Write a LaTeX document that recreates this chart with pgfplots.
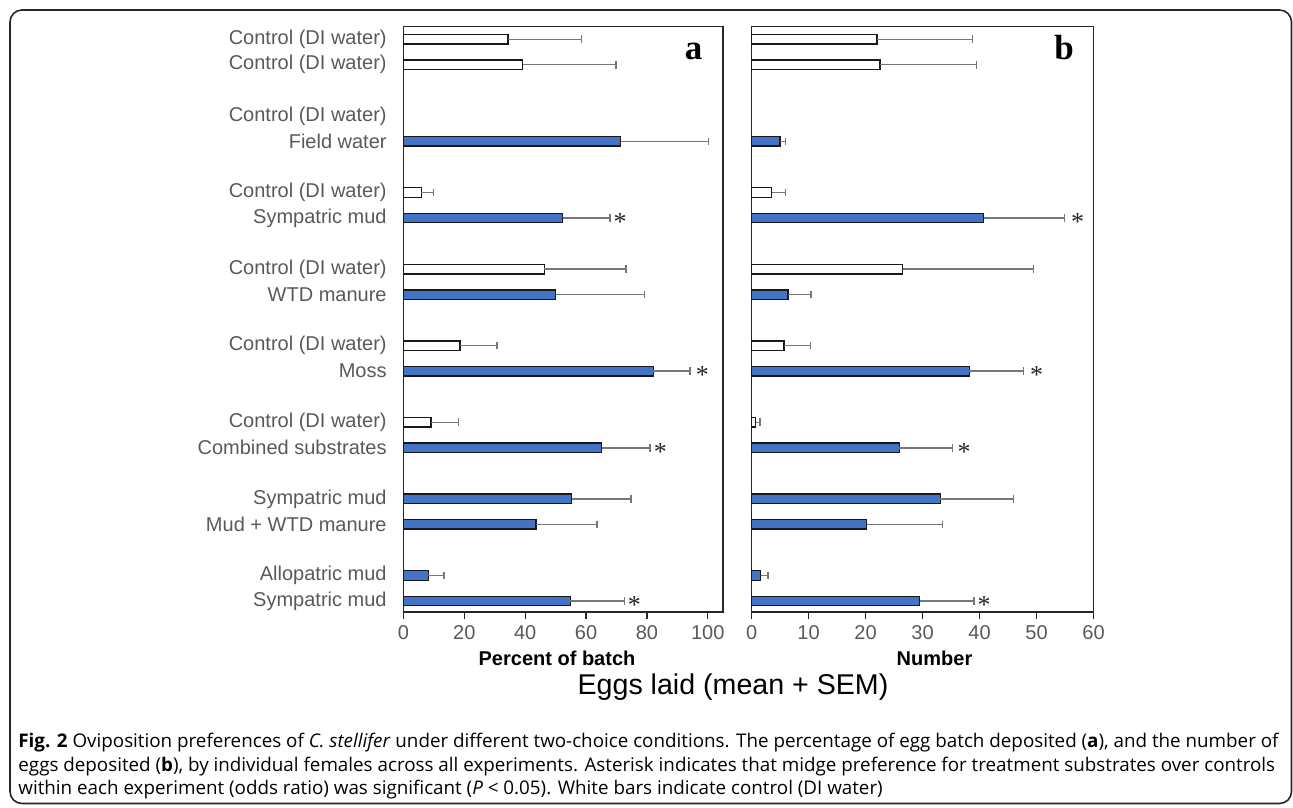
\documentclass[border=0pt]{standalone}
\usepackage{fontspec}
\setmainfont{Liberation Sans}
\newfontfamily\capfont{Open Sans}
\newfontfamily\letterfont{Liberation Serif}
\usepackage{pgfplots}
\pgfplotsset{compat=1.18}
\definecolor{barblue}{HTML}{4472C4}
\definecolor{labgray}{HTML}{595959}
\definecolor{errgray}{HTML}{777777}
\pgfplotsset{
  panel/.style={
    scale only axis, y dir=reverse, ymin=26.7, ymax=612,
    height=292.65pt,
    axis line style={black!85, line width=0.7pt},
    xtick align=outside, xtick pos=bottom,
    major tick length=3.25pt,
    xtick style={black!85, line width=0.7pt},
    ytick style={draw=none},
    ticklabel style={font=\fontsize{10}{12}\selectfont, text=labgray},
    /pgf/number format/assume math mode=true,
    clip=false,
  },
  errs/.style={error bars/.cd, x dir=plus, x explicit, error mark=|,
    error bar style={errgray, line width=0.7pt},
    error mark options={errgray, mark size=1.9pt, line width=0.7pt}},
  ctrl/.style={xbar, bar shift=0pt, bar width=9.5, fill=white, draw=black!90, line width=0.7pt, errs},
  treat/.style={xbar, bar shift=0pt, bar width=9.5, fill=barblue, draw=black!90, line width=0.7pt, errs},
  star/.style={draw=none, mark=none, nodes near coords, point meta=explicit symbolic,
    nodes near coords align=center,
    every node near coord/.append style={anchor=base, yshift=-6.4pt, font=\letterfont\fontsize{13}{13}\selectfont, text=black!85, inner sep=0pt}},
}
\begin{document}
\begin{tikzpicture}[x=0.5pt,y=0.5pt]
\path[use as bounding box] (0,0) rectangle (1293,807);
\draw[line width=0.8pt, rounded corners=6pt, black!85] (10,{807-10}) rectangle (1291.5,{807-803.5});

% Panel a
\begin{axis}[panel, at={(201.75pt,97.5pt)}, anchor=south west,
  width=159.75pt, xmin=0, xmax=105, xtick={0,20,...,100},
  ytick={39.3,64.8,115.9,141.4,192.5,218,269.1,294.6,345.7,371.2,422.3,447.8,498.9,524.4,575.5,601},
  yticklabels={Control (DI water),Control (DI water),Control (DI water),Field water,Control (DI water),Sympatric mud,Control (DI water),WTD manure,Control (DI water),Moss,Control (DI water),Combined substrates,Sympatric mud,Mud + WTD manure,Allopatric mud,Sympatric mud},
  yticklabel style={anchor=east, inner sep=0pt, xshift=-8.25pt},
]
\addplot[ctrl] coordinates {
 (34.3,39.3) +- (24.2,0)
 (39.2,64.8) +- (30.6,0)
 (5.9,192.5) +- (4.0,0)
 (46.3,269.1) +- (26.8,0)
 (18.5,345.7) +- (12.2,0)
 (9.1,422.3) +- (8.9,0)
};
\addplot[treat] coordinates {
 (71.4,141.4) +- (28.9,0)
 (52.3,218) +- (15.6,0)
 (50.0,294.6) +- (29.1,0)
 (82.1,371.2) +- (12.0,0)
 (65.1,447.8) +- (15.9,0)
 (55.3,498.9) +- (19.5,0)
 (43.6,524.4) +- (20.0,0)
 (8.2,575.5) +- (5.1,0)
 (54.8,601) +- (17.8,0)
};
\addplot[star] coordinates {
 (71.2,218) [*]
 (98.2,371.2) [*]
 (84.4,447.8) [*]
 (75.9,601) [*]
};
\end{axis}

% Panel b
\begin{axis}[panel, at={(375.8pt,97.5pt)}, anchor=south west,
  width=171pt, xmin=0, xmax=60, xtick={0,10,...,60},
  ytick=\empty,
]
\addplot[ctrl] coordinates {
 (22.0,39.3) +- (16.8,0)
 (22.5,64.8) +- (17.0,0)
 (3.5,192.5) +- (2.4,0)
 (26.5,269.1) +- (23.0,0)
 (5.7,345.7) +- (4.6,0)
 (0.7,422.3) +- (0.8,0)
};
\addplot[treat] coordinates {
 (5.0,141.4) +- (0.9,0)
 (40.7,218) +- (14.2,0)
 (6.4,294.6) +- (4.0,0)
 (38.2,371.2) +- (9.5,0)
 (25.9,447.8) +- (9.3,0)
 (33.1,498.9) +- (12.8,0)
 (20.2,524.4) +- (13.3,0)
 (1.6,575.5) +- (1.3,0)
 (29.5,601) +- (9.5,0)
};
\addplot[star] coordinates {
 (57.2,218) [*]
 (50.0,371.2) [*]
 (37.3,447.8) [*]
 (40.8,601) [*]
};
\end{axis}

\node[anchor=base, inner sep=0pt] at (693.5,{807-60}) {\letterfont\bfseries\fontsize{17.5}{18}\selectfont a};
\node[anchor=base, inner sep=0pt] at (1064,{807-60}) {\letterfont\bfseries\fontsize{17.5}{18}\selectfont b};

\node[inner sep=0pt] at (557,{807-658}) {\bfseries\fontsize{10}{12}\selectfont Percent of batch};
\node[inner sep=0pt] at (934.5,{807-658}) {\bfseries\fontsize{10}{12}\selectfont Number};
\node[inner sep=0pt] at (733,{807-687}) {\fontsize{14.3}{16}\selectfont Eggs laid (mean + SEM)};

\begin{scope}[every node/.style={anchor=base west, inner sep=0pt, font=\capfont\fontsize{9.4}{11}\selectfont}]
\node at (18,{807-747}) {\textbf{Fig. 2} Oviposition preferences of \textit{C. stellifer} under different two-choice conditions. The percentage of egg batch deposited (\textbf{a}), and the number of};
\node at (18,{807-771}) {eggs deposited (\textbf{b}), by individual females across all experiments. Asterisk indicates that midge preference for treatment substrates over controls};
\node at (18,{807-795}) {within each experiment (odds ratio) was significant (\textit{P} < 0.05). White bars indicate control (DI water)};
\end{scope}
\end{tikzpicture}
\end{document}
